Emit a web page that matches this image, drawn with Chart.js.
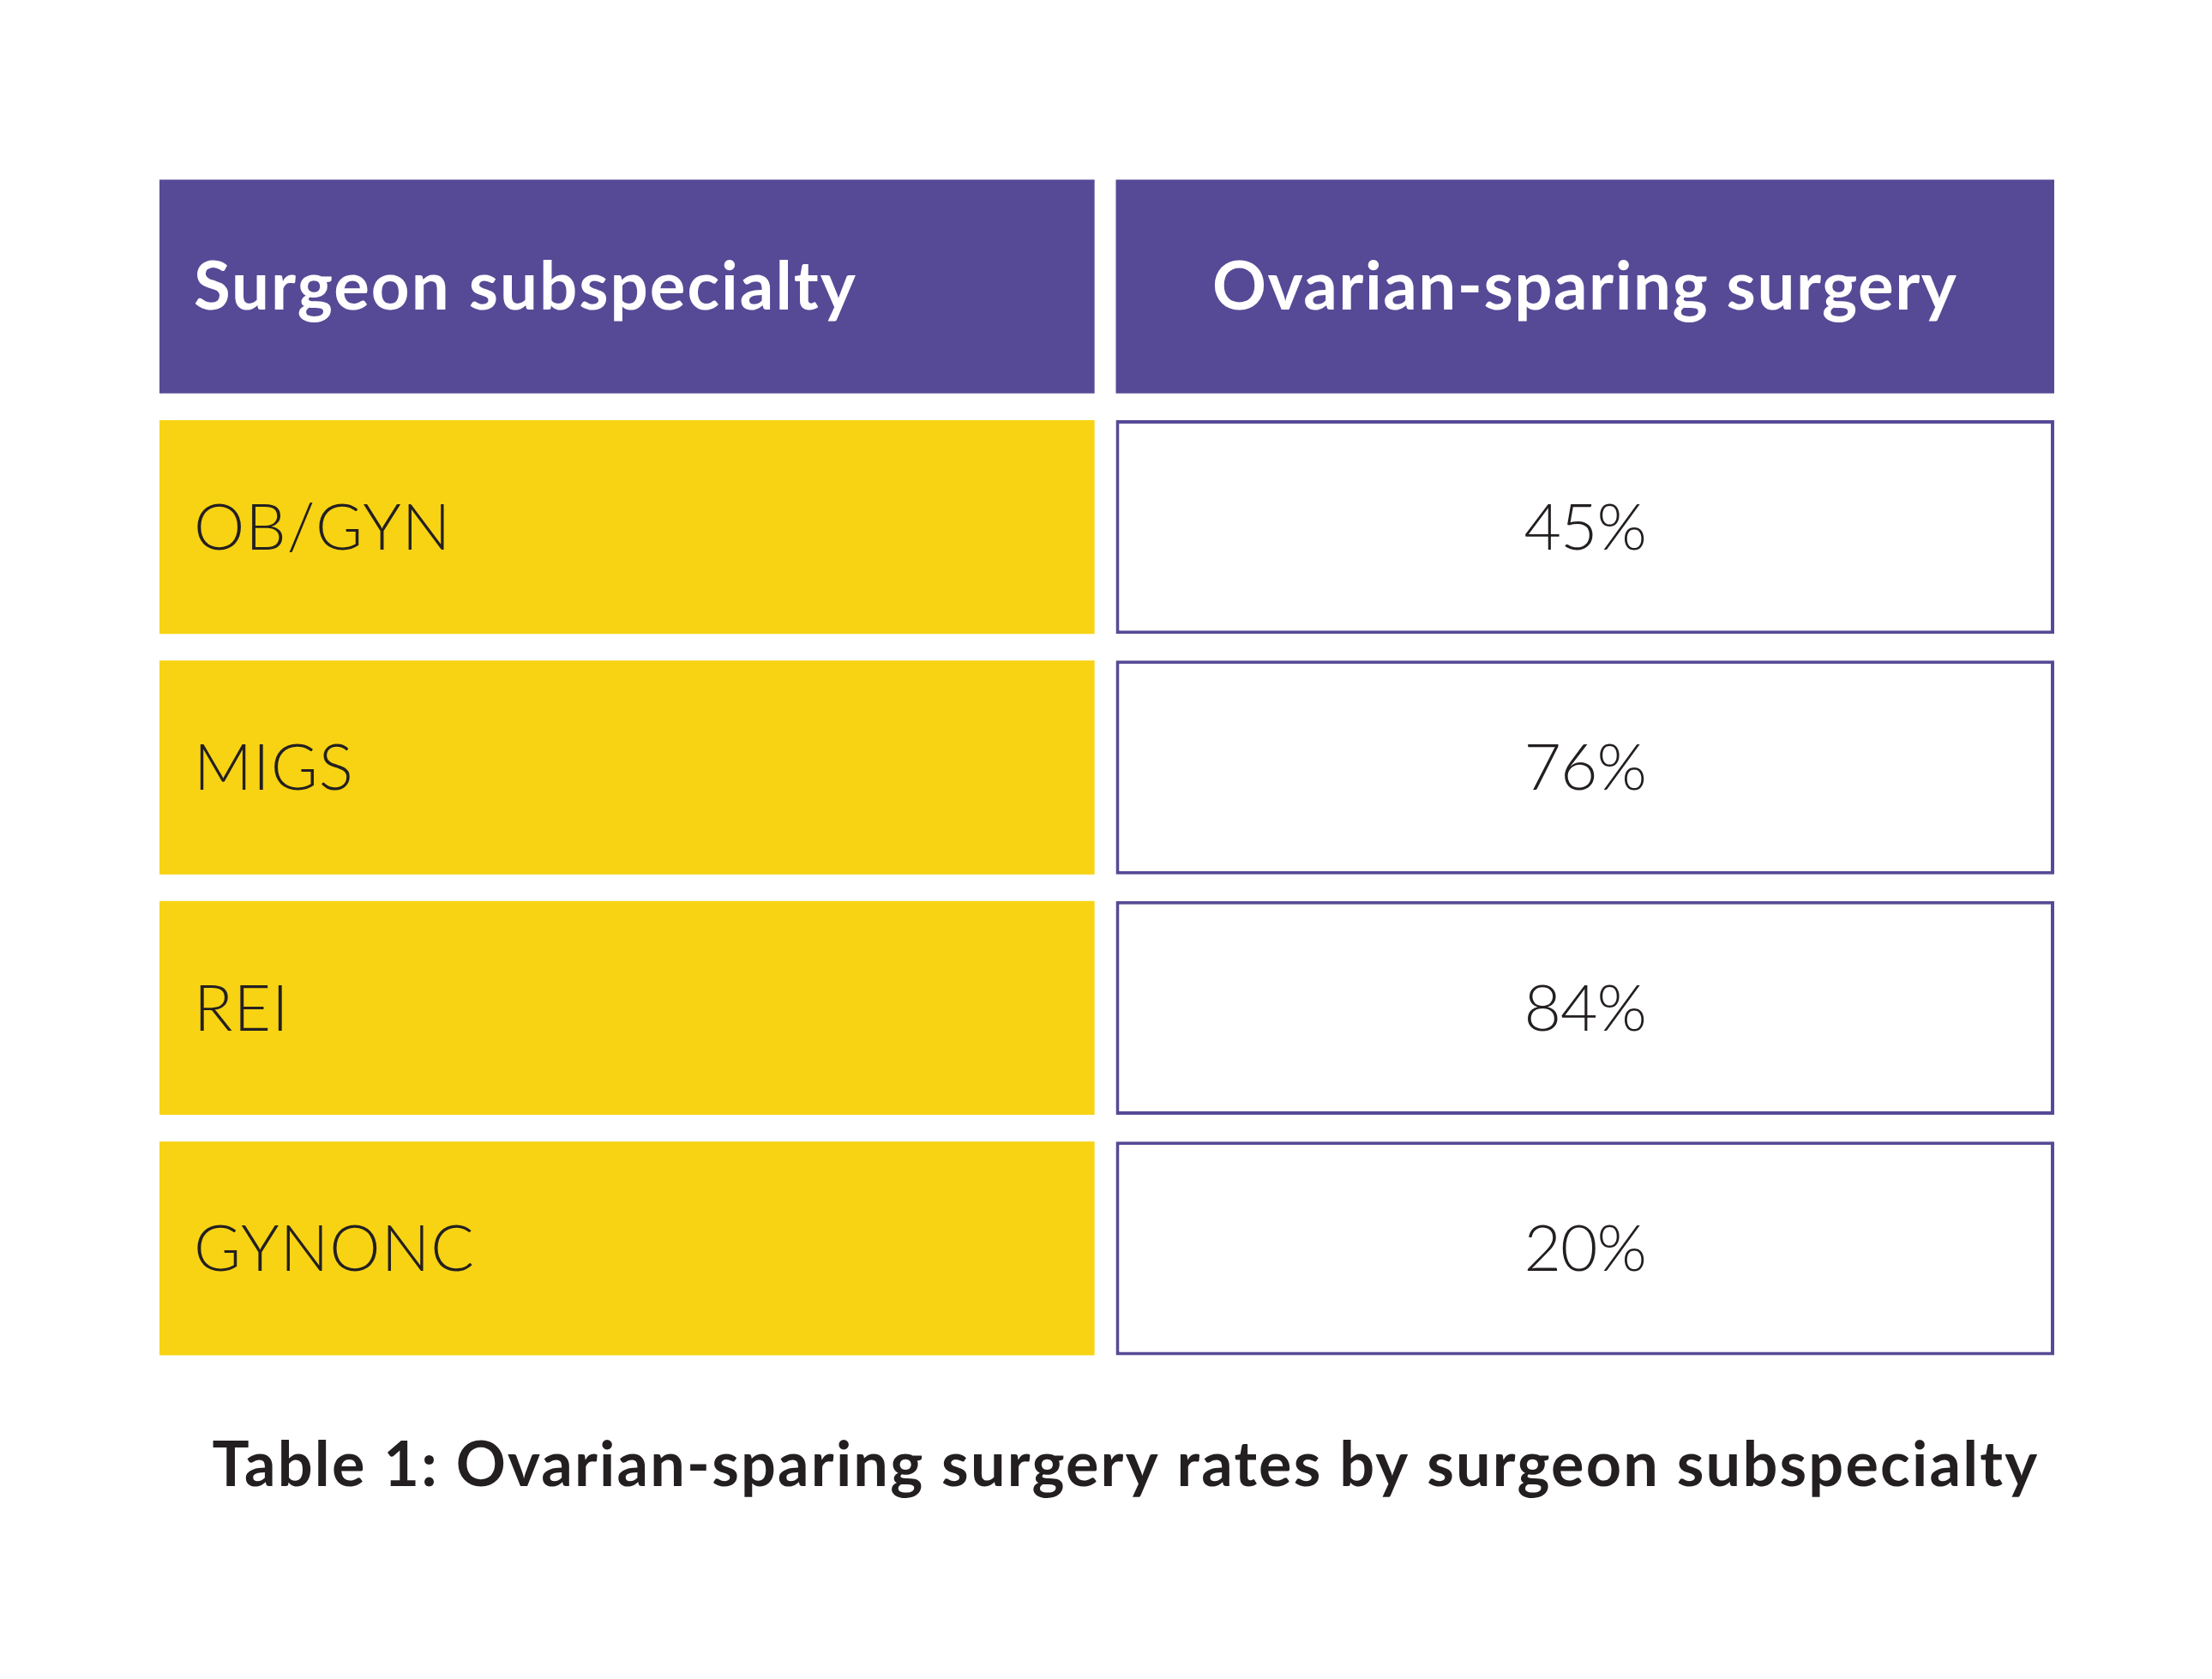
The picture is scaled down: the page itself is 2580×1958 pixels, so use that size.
<!DOCTYPE html>
<html>
<head>
<meta charset="utf-8">
<title>Ovarian-sparing surgery rates by surgeon subspecialty</title>
<script src="https://cdn.jsdelivr.net/npm/chart.js@4.4.1/dist/chart.umd.min.js"></script>
<style>
    html, body { margin: 0; padding: 0; background: #ffffff; }
    #wrap { width: 2580px; height: 1958px; position: relative; }
</style>
</head>
<body>
<div id="wrap"><canvas id="tableChart"></canvas></div>
<script>
// Table data
var headers = ['Surgeon subspecialty', 'Ovarian-sparing surgery'];
var subspecialties = ['OB/GYN', 'MIGS', 'REI', 'GYNONC'];
var sparingRates = [45, 76, 84, 20];
var caption = 'Table 1: Ovarian-sparing surgery rates by surgeon subspecialty';

var PURPLE = '#564a96';
var YELLOW = '#f7d313';
var INK = '#231f20';

// One row per category: header first, then a row per subspecialty
var rows = [headers[0]].concat(subspecialties);

// Each column is a floating bar spanning its part of the 0..2 axis
var labelCells = rows.map(function() { return [0, 0.987]; });
var valueCells = rows.map(function() { return [1.0095, 2]; });

// Draw the cell texts on top of the bars
var cellText = {
    id: 'cellText',
    afterDatasetsDraw: function(chart) {
        var ctx = chart.ctx;
        var left = chart.getDatasetMeta(0).data;
        var right = chart.getDatasetMeta(1).data;
        ctx.save();
        ctx.textBaseline = 'middle';

        left.forEach(function(bar, i) {
            var x0 = Math.min(bar.x, bar.base);
            if (i === 0) {
                ctx.font = 'bold 78px Lato';
                ctx.letterSpacing = '2px';
                ctx.fillStyle = '#ffffff';
            } else {
                ctx.font = '300 75px Lato';
                ctx.letterSpacing = '1px';
                ctx.fillStyle = INK;
            }
            ctx.textAlign = 'left';
            ctx.fillText(rows[i], x0 + 40, bar.y + 2);
        });

        right.forEach(function(bar, i) {
            var cx = (bar.x + bar.base) / 2;
            ctx.textAlign = 'center';
            if (i === 0) {
                ctx.font = 'bold 78px Lato';
                ctx.letterSpacing = '1.5px';
                ctx.fillStyle = '#ffffff';
                ctx.fillText(headers[1], cx, bar.y + 2);
            } else {
                ctx.font = '300 75px Lato';
                ctx.letterSpacing = '-1px';
                ctx.fillStyle = INK;
                ctx.fillText(sparingRates[i - 1] + '%', cx, bar.y + 2);
            }
        });

        // Caption below the table
        var area = chart.chartArea;
        ctx.font = 'bold 72px Lato';
        ctx.letterSpacing = '2.2px';
        ctx.fillStyle = INK;
        ctx.textAlign = 'center';
        ctx.textBaseline = 'alphabetic';
        ctx.fillText(caption, (area.left + area.right) / 2 + 22, area.bottom + 137);
        ctx.restore();
    }
};

new Chart(document.getElementById('tableChart'), {
    type: 'bar',
    data: {
        labels: rows,
        datasets: [
            {
                label: headers[0],
                data: labelCells,
                backgroundColor: rows.map(function(r, i) { return i === 0 ? PURPLE : YELLOW; }),
                borderWidth: 0,
                grouped: false
            },
            {
                label: headers[1],
                data: valueCells,
                backgroundColor: rows.map(function(r, i) { return i === 0 ? PURPLE : '#ffffff'; }),
                borderColor: PURPLE,
                borderWidth: rows.map(function(r, i) { return i === 0 ? 0 : 4; }),
                borderSkipped: false,
                grouped: false
            }
        ]
    },
    options: {
        indexAxis: 'y',
        responsive: true,
        maintainAspectRatio: false,
        devicePixelRatio: 1,
        animation: false,
        layout: {
            padding: { left: 186, right: 184, top: 194, bottom: 362 }
        },
        datasets: {
            bar: { categoryPercentage: 1, barPercentage: 0.889 }
        },
        scales: {
            x: { type: 'linear', min: 0, max: 2, display: false },
            y: { type: 'category', display: false }
        },
        plugins: {
            legend: { display: false },
            tooltip: { enabled: false },
            title: { display: false }
        }
    },
    plugins: [cellText]
});
</script>
</body>
</html>
